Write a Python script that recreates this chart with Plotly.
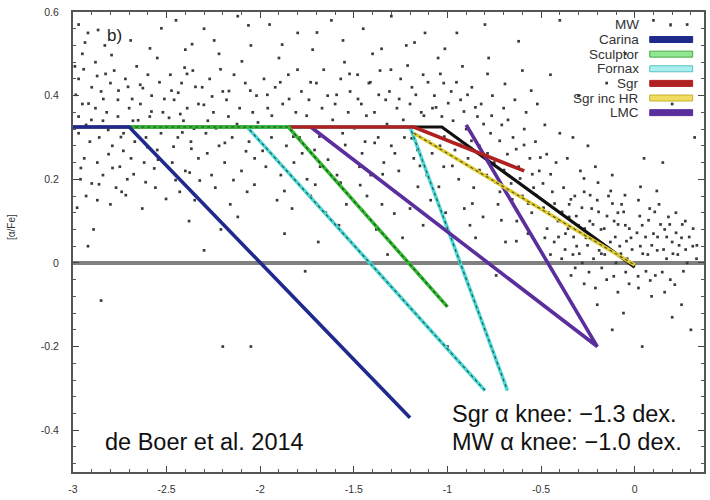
import plotly.graph_objects as go

# ---------------- data ----------------
x_tick_vals = [-3, -2.5, -2, -1.5, -1, -0.5, 0]
x_tick_text = ["-3", "-2.5", "-2", "-1.5", "-1", "-0.5", "0"]
y_tick_vals = [-0.4, -0.2, 0, 0.2, 0.4, 0.6]
y_tick_text = ["-0.4", "-0.2", "0", "0.2", "0.4", "0.6"]

# Milky Way stars ([Fe/H], [alpha/Fe])
mw_stars = [
    (-2.97,0.57),(-2.92,0.55),(-2.95,0.50),(-2.88,0.48),(-2.83,0.52),(-2.78,0.46),(-2.97,0.44),(-2.90,0.42),
    (-2.85,0.41),(-2.80,0.43),(-2.72,0.44),(-2.66,0.47),(-2.60,0.45),(-2.55,0.49),(-2.95,0.38),(-2.88,0.37),
    (-2.82,0.36),(-2.76,0.39),(-2.70,0.37),(-2.64,0.38),(-2.58,0.40),(-2.52,0.36),(-2.97,0.31),(-2.91,0.29),
    (-2.86,0.30),(-2.79,0.28),(-2.73,0.31),(-2.67,0.29),(-2.61,0.30),(-2.55,0.27),(-2.94,0.25),(-2.87,0.24),
    (-2.81,0.26),(-2.75,0.23),(-2.69,0.25),(-2.62,0.24),(-2.96,0.20),(-2.90,0.19),(-2.84,0.21),(-2.77,0.18),
    (-2.71,0.20),(-2.93,0.16),(-2.87,0.15),(-2.80,0.14),(-2.74,0.17),(-2.63,0.13),(-2.56,0.18),(-2.89,0.08),
    (-2.92,0.04),(-2.85,-0.09),(-2.97,0.35),(-2.93,0.33),(-2.84,0.34),(-2.76,0.35),(-2.68,0.34),(-2.59,0.35),
    (-2.53,0.31),(-2.99,0.47),
    (-2.45,0.58),(-2.30,0.56),(-2.12,0.59),(-2.40,0.51),(-2.22,0.50),(-2.05,0.52),(-2.48,0.45),(-2.42,0.43),
    (-2.36,0.46),(-2.31,0.42),(-2.27,0.44),(-2.20,0.41),(-2.14,0.45),(-2.08,0.43),(-2.02,0.40),(-2.46,0.39),
    (-2.39,0.37),(-2.33,0.38),(-2.25,0.36),(-2.18,0.39),(-2.11,0.37),(-2.04,0.36),(-2.44,0.30),(-2.37,0.29),
    (-2.29,0.31),(-2.22,0.28),(-2.15,0.30),(-2.06,0.29),(-2.47,0.24),(-2.40,0.22),(-2.33,0.25),(-2.26,0.21),
    (-2.19,0.24),(-2.10,0.22),(-2.03,0.25),(-2.43,0.17),(-2.35,0.15),(-2.24,0.18),(-2.16,0.14),(-2.07,0.17),
    (-2.38,0.10),(-2.21,0.08),(-2.12,0.11),(-2.30,0.03),(-2.20,-0.20),(-2.05,-0.20),(-2.28,0.34),(-2.17,0.35),
    (-2.41,0.34),
    (-1.95,0.57),(-1.80,0.55),(-1.62,0.58),(-1.90,0.49),(-1.72,0.51),(-1.55,0.48),(-1.98,0.44),(-1.92,0.42),
    (-1.85,0.45),(-1.78,0.41),(-1.70,0.43),(-1.64,0.40),(-1.57,0.44),(-1.52,0.41),(-1.96,0.37),(-1.88,0.38),
    (-1.81,0.36),(-1.74,0.39),(-1.67,0.37),(-1.60,0.38),(-1.53,0.36),(-1.94,0.30),(-1.86,0.28),(-1.79,0.30),
    (-1.71,0.27),(-1.63,0.29),(-1.56,0.31),(-1.97,0.23),(-1.89,0.21),(-1.82,0.24),(-1.75,0.20),(-1.68,0.23),
    (-1.59,0.21),(-1.91,0.15),(-1.83,0.13),(-1.73,0.16),(-1.65,0.12),(-1.54,0.14),(-1.87,0.07),(-1.69,0.05),
    (-1.58,0.09),(-1.76,-0.02),
    (-1.45,0.56),(-1.30,0.59),(-1.12,0.55),(-1.40,0.50),(-1.22,0.52),(-1.05,0.49),(-1.48,0.45),(-1.42,0.43),
    (-1.36,0.46),(-1.31,0.41),(-1.25,0.44),(-1.19,0.42),(-1.13,0.45),(-1.07,0.40),(-1.02,0.43),(-1.46,0.38),
    (-1.39,0.36),(-1.33,0.39),(-1.27,0.37),(-1.20,0.38),(-1.14,0.36),(-1.08,0.37),(-1.03,0.35),(-1.44,0.29),
    (-1.37,0.30),(-1.30,0.28),(-1.23,0.30),(-1.16,0.27),(-1.10,0.29),(-1.04,0.28),(-1.47,0.23),(-1.41,0.21),
    (-1.34,0.24),(-1.26,0.22),(-1.18,0.25),(-1.11,0.21),(-1.02,0.23),(-1.43,0.16),(-1.35,0.14),(-1.28,0.17),
    (-1.20,0.13),(-1.09,0.15),(-1.38,0.08),(-1.24,0.06),(-1.13,0.09),(-1.01,0.12),(-1.00,-0.20),(-1.32,0.02),
    (-0.95,0.55),(-0.80,0.57),(-0.62,0.53),(-0.92,0.47),(-0.78,0.49),(-0.60,0.46),(-0.98,0.41),(-0.93,0.39),
    (-0.87,0.42),(-0.82,0.38),(-0.76,0.40),(-0.70,0.37),(-0.64,0.39),(-0.58,0.36),(-0.52,0.38),(-0.97,0.34),
    (-0.90,0.32),(-0.84,0.35),(-0.77,0.31),(-0.71,0.33),(-0.65,0.30),(-0.59,0.32),(-0.53,0.29),(-0.96,0.27),
    (-0.89,0.25),(-0.83,0.28),(-0.75,0.24),(-0.68,0.26),(-0.62,0.23),(-0.56,0.25),(-0.51,0.22),(-0.94,0.20),
    (-0.86,0.18),(-0.79,0.21),(-0.72,0.17),(-0.66,0.19),(-0.60,0.16),(-0.54,0.18),(-0.91,0.13),(-0.81,0.11),
    (-0.73,0.14),(-0.63,0.10),(-0.55,0.12),(-0.85,0.06),(-0.69,0.05),(-0.57,0.07),(-0.74,-0.03),(-0.88,0.09),
    (-0.45,0.45),(-0.30,0.40),(-0.15,0.43),(-0.48,0.33),(-0.40,0.31),(-0.33,0.30),(-0.25,0.28),(-0.47,0.26),
    (-0.42,0.24),(-0.36,0.25),(-0.29,0.22),(-0.21,0.23),(-0.12,0.21),(-0.49,0.19),(-0.44,0.17),(-0.38,0.18),
    (-0.32,0.16),(-0.27,0.17),(-0.20,0.15),(-0.14,0.16),(-0.07,0.14),(-0.46,0.12),(-0.41,0.10),(-0.35,0.11),
    (-0.30,0.09),(-0.24,0.10),(-0.18,0.08),(-0.11,0.10),(-0.05,0.09),(-0.48,0.06),(-0.43,0.05),(-0.37,0.07),
    (-0.31,0.04),(-0.26,0.06),(-0.19,0.03),(-0.13,0.05),(-0.08,0.04),(-0.02,0.06),(-0.45,0.02),(-0.39,0.01),
    (-0.33,0.02),(-0.28,0.00),(-0.22,0.01),(-0.16,0.02),(-0.10,0.00),(-0.04,0.01),(-0.34,-0.03),(-0.27,-0.05),
    (-0.21,-0.06),(-0.15,-0.04),(-0.09,-0.07),(-0.03,-0.05),(-0.20,-0.10),(-0.06,-0.12),(-0.12,-0.16),(-0.35,0.14),
    (-0.23,0.13),(-0.09,0.12),
    (0.05,0.25),(0.15,0.24),(0.02,0.15),(0.08,0.13),(0.13,0.14),(0.18,0.11),(0.22,0.12),(0.27,0.10),
    (0.04,0.09),(0.10,0.07),(0.16,0.08),(0.20,0.05),(0.25,0.06),(0.31,0.04),(0.03,0.04),(0.07,0.02),
    (0.12,0.03),(0.17,0.01),(0.23,0.02),(0.28,0.00),(0.33,0.01),(0.06,-0.02),(0.11,-0.03),(0.19,-0.04),
    (0.26,-0.02),(0.02,-0.06),(0.09,-0.08),(0.16,-0.07),(0.25,-0.10),(0.20,-0.13),(0.04,-0.20),(0.30,-0.16),
    (-0.40,0.58),(0.10,0.58),(0.28,0.57),(-0.05,0.50),(0.20,0.38),(0.32,0.30),
    # second pass, denser regions
    (-2.985,0.402),(-2.943,0.463),(-2.917,0.381),(-2.871,0.447),(-2.838,0.392),(-2.812,0.318),(-2.794,0.497),
    (-2.757,0.412),(-2.731,0.268),(-2.706,0.421),(-2.684,0.392),(-2.652,0.341),(-2.627,0.418),(-2.603,0.277),
    (-2.581,0.362),(-2.566,0.226),(-2.538,0.432),(-2.512,0.392),(-2.487,0.347),(-2.463,0.278),(-2.438,0.407),
    (-2.416,0.312),(-2.391,0.452),(-2.368,0.273),(-2.346,0.421),(-2.323,0.197),(-2.301,0.378),(-2.958,0.227),
    (-2.902,0.342),(-2.861,0.188),(-2.826,0.452),(-2.789,0.227),(-2.744,0.301),(-2.718,0.162),(-2.676,0.212),
    (-2.641,0.426),(-2.612,0.193),(-2.589,0.513),(-2.546,0.247),(-2.503,0.153),(-2.474,0.412),(-2.452,0.198),
    (-2.427,0.356),(-2.404,0.467),(-2.377,0.216),(-2.354,0.321),(-2.978,0.132),(-2.936,0.527),(-2.866,0.557),
    (-2.692,0.532),(-2.528,0.561),(-2.364,0.523),
    (-2.283,0.262),(-2.257,0.398),(-2.236,0.322),(-2.212,0.463),(-2.189,0.287),(-2.167,0.411),(-2.143,0.198),
    (-2.124,0.332),(-2.098,0.482),(-2.076,0.267),(-2.053,0.412),(-2.031,0.187),(-2.012,0.336),(-1.987,0.268),
    (-1.962,0.402),(-1.938,0.352),(-1.914,0.247),(-1.893,0.432),(-1.871,0.172),(-1.846,0.392),(-1.823,0.302),
    (-1.801,0.462),(-1.776,0.262),(-1.752,0.352),(-1.731,0.432),(-1.706,0.187),(-1.684,0.302),(-1.661,0.462),
    (-1.638,0.247),(-1.613,0.342),(-1.592,0.402),(-1.571,0.192),(-1.546,0.282),(-1.523,0.452),(-2.246,0.532),
    (-2.063,0.568),(-1.883,0.522),(-1.697,0.551),(-1.558,0.532),
    (-1.497,0.322),(-1.478,0.392),(-1.456,0.262),(-1.433,0.352),(-1.412,0.432),(-1.389,0.287),(-1.367,0.402),
    (-1.346,0.212),(-1.323,0.332),(-1.302,0.462),(-1.281,0.262),(-1.258,0.392),(-1.236,0.342),(-1.213,0.472),
    (-1.191,0.298),(-1.169,0.402),(-1.147,0.232),(-1.126,0.352),(-1.104,0.432),(-1.082,0.262),(-1.061,0.372),
    (-1.038,0.452),(-1.017,0.302),(-0.996,0.382),(-0.974,0.232),(-0.952,0.432),(-0.931,0.282),(-0.912,0.362),
    (-1.352,0.512),(-1.176,0.527),(-1.014,0.512),(-1.466,0.186),(-1.284,0.118),(-1.158,0.182),(-1.046,0.182),
    (-0.893,0.402),(-0.872,0.292),(-0.851,0.372),(-0.829,0.222),(-0.807,0.332),(-0.786,0.262),(-0.764,0.352),
    (-0.742,0.192),(-0.721,0.292),(-0.698,0.222),(-0.677,0.342),(-0.654,0.152),(-0.633,0.272),(-0.612,0.202),
    (-0.591,0.282),(-0.569,0.142),(-0.547,0.212),(-0.526,0.162),(-0.504,0.252),(-0.487,0.132),(-0.468,0.082),
    (-0.449,0.212),(-0.428,0.142),(-0.407,0.062),(-0.786,0.452),(-0.693,0.428),(-0.553,0.412),(-0.867,0.142),
    (-0.712,0.102),(-0.632,0.052),
    (-0.388,0.122),(-0.372,0.032),(-0.356,0.082),(-0.341,0.152),(-0.326,0.062),(-0.312,0.112),(-0.296,0.022),
    (-0.282,0.132),(-0.267,0.082),(-0.252,0.042),(-0.238,0.162),(-0.223,0.092),(-0.208,0.052),(-0.193,0.122),
    (-0.178,0.022),(-0.163,0.082),(-0.148,0.112),(-0.134,0.032),(-0.119,0.142),(-0.104,0.062),(-0.089,0.092),
    (-0.074,0.022),(-0.059,0.122),(-0.044,0.052),(-0.029,0.082),(-0.014,0.032),(0.012,0.072),(0.027,0.112),
    (0.043,0.022),(0.058,0.062),(0.074,0.102),(0.091,0.042),(0.107,0.122),(0.122,0.062),(0.138,0.092),
    (0.154,0.032),(0.171,0.062),(0.187,0.092),(0.204,0.022),(0.221,0.072),(0.237,0.042),(0.254,0.092),
    (0.272,0.032),(0.291,0.062),(0.312,0.082),(0.332,0.042),(-0.318,-0.012),(-0.244,-0.022),(-0.176,-0.012),
    (-0.112,-0.032),(-0.048,-0.022),(0.018,-0.032),(0.083,-0.042),(0.147,-0.022),(0.214,-0.052),(-0.271,0.202),
    (-0.196,0.192),(-0.128,0.172),(-0.052,0.162),(0.031,0.182),(0.118,0.172),
]

# model tracks ([Fe/H] nodes, [alpha/Fe] nodes)
mw_feh = [-3.0, -1.03, 0.0]
mw_afe = [0.325, 0.325, -0.01]
sgrhr_feh = [-1.18, 0.0]
sgrhr_afe = [0.31, -0.005]
lmc_feh = [-1.73, -0.2, -0.9]
lmc_afe = [0.325, -0.2, 0.33]
sgr_feh = [-1.85, -1.18, -0.59]
sgr_afe = [0.325, 0.325, 0.22]
fornax_feh = [-0.80, -2.07, -1.2, -0.68]
fornax_afe = [-0.305, 0.325, 0.325, -0.305]
sculptor_feh = [-2.7, -1.85, -1.0]
sculptor_afe = [0.325, 0.325, -0.105]
carina_feh = [-3.0, -2.7, -1.2]
carina_afe = [0.325, 0.325, -0.37]

legend_names = ["MW", "Carina", "Sculptor", "Fornax", "Sgr", "Sgr inc HR", "LMC"]

# ---------------- styles ----------------
styles = {
    "Carina":     dict(color="#1f2a8c", key_fill="#1f2a8c", key_line="#1f2a8c", dotted=False),
    "Sculptor":   dict(color="#34b834", key_fill="#8fe88f", key_line="#4aa84a", dotted=True),
    "Fornax":     dict(color="#4dd6d6", key_fill="#a8f0f0", key_line="#5cc0c0", dotted=True),
    "Sgr":        dict(color="#b02020", key_fill="#b02020", key_line="#b02020", dotted=False),
    "Sgr inc HR": dict(color="#e2cc34", key_fill="#f0dc60", key_line="#c8b030", dotted=True),
    "LMC":        dict(color="#5b2e9e", key_fill="#5b2e9e", key_line="#5b2e9e", dotted=False),
}

fig = go.Figure()

fig.add_trace(go.Scatter(
    x=[p[0] for p in mw_stars], y=[p[1] for p in mw_stars], mode="markers",
    marker=dict(symbol="square", size=2.7, color="#3a3a3a"),
    hoverinfo="skip", showlegend=False))

fig.add_trace(go.Scatter(x=mw_feh, y=mw_afe, mode="lines",
                         line=dict(color="#111111", width=3.2), showlegend=False))

tracks = [
    ("Fornax", fornax_feh, fornax_afe),
    ("LMC", lmc_feh, lmc_afe),
    ("Sgr inc HR", sgrhr_feh, sgrhr_afe),
    ("Sgr", sgr_feh, sgr_afe),
    ("Sculptor", sculptor_feh, sculptor_afe),
    ("Carina", carina_feh, carina_afe),
]
for name, xs, ys in tracks:
    st = styles[name]
    fig.add_trace(go.Scatter(x=xs, y=ys, mode="lines", name=name,
                             line=dict(color=st["color"], width=3.6), showlegend=False))
    if st["dotted"]:
        fig.add_trace(go.Scatter(x=xs, y=ys, mode="lines", showlegend=False,
                                 line=dict(color="rgba(20,40,20,0.75)", width=1.1, dash="dot")))

# ---------------- custom legend (text left, key right) ----------------
shapes = []
annotations = []
row_top = 0.972
row_step = 0.0318
for i, name in enumerate(legend_names):
    yy = row_top - i * row_step
    annotations.append(dict(xref="paper", yref="paper", x=0.900, y=yy, text=name,
                            xanchor="right", yanchor="middle", showarrow=False,
                            font=dict(family="Arial", size=13.5, color="#333333")))
    if name == "MW":
        shapes.append(dict(type="rect", xref="paper", yref="paper",
                           x0=0.945, x1=0.949, y0=yy - 0.0035, y1=yy + 0.0035,
                           fillcolor="#333333", line=dict(width=0)))
    else:
        st = styles[name]
        shapes.append(dict(type="rect", xref="paper", yref="paper",
                           x0=0.914, x1=0.982, y0=yy - 0.0065, y1=yy + 0.0065,
                           fillcolor=st["key_fill"], line=dict(color=st["key_line"], width=1)))

annotations += [
    dict(xref="paper", yref="paper", x=0.065, y=0.948, text="b)", showarrow=False,
         xanchor="center", yanchor="middle", font=dict(family="Arial", size=17, color="#222222")),
    dict(xref="paper", yref="paper", x=-0.0963, y=0.533, text="[α/Fe]", showarrow=False,
         textangle=-90, xanchor="center", yanchor="middle",
         font=dict(family="Arial", size=10, color="#333333")),
    dict(xref="paper", yref="paper", x=0.047, y=0.066, text="de Boer et al. 2014", showarrow=False,
         xanchor="left", yanchor="middle", font=dict(family="Arial", size=23.5, color="#111111")),
    dict(xref="paper", yref="paper", x=0.598, y=0.127, text="Sgr α knee: −1.3 dex.", showarrow=False,
         xanchor="left", yanchor="middle", font=dict(family="Arial", size=23.5, color="#111111")),
    dict(xref="paper", yref="paper", x=0.598, y=0.066, text="MW α knee: −1.0 dex.", showarrow=False,
         xanchor="left", yanchor="middle", font=dict(family="Arial", size=23.5, color="#111111")),
]

fig.update_layout(
    width=710, height=500,
    margin=dict(l=73, r=4, t=12, b=28),
    plot_bgcolor="white", paper_bgcolor="white",
    showlegend=False,
    font=dict(family="Arial", color="#333333"),
    shapes=shapes, annotations=annotations,
    xaxis=dict(range=[-3, 0.37], tickmode="array", tickvals=x_tick_vals, ticktext=x_tick_text,
               ticks="inside", ticklen=6, tickwidth=1, tickcolor="#444444",
               showline=True, linecolor="#555555", linewidth=2, mirror="ticks",
               showgrid=False, zeroline=False,
               minor=dict(tickmode="linear", tick0=-3, dtick=0.1, ticks="inside", ticklen=3,
                          tickcolor="#555555", showgrid=False),
               tickfont=dict(family="Arial", size=10.5, color="#333333"), ticklabelstandoff=6),
    yaxis=dict(range=[-0.5, 0.6], tickmode="array", tickvals=y_tick_vals, ticktext=y_tick_text,
               ticks="inside", ticklen=6, tickwidth=1, tickcolor="#444444",
               showline=True, linecolor="#555555", linewidth=2, mirror="ticks",
               showgrid=False, zeroline=True, zerolinecolor="#808080", zerolinewidth=3.5,
               minor=dict(tickmode="linear", tick0=0, dtick=0.04, ticks="inside", ticklen=3,
                          tickcolor="#555555", showgrid=False),
               tickfont=dict(family="Arial", size=10.5, color="#333333"), ticklabelstandoff=10),
)

fig.write_html("out.html")
